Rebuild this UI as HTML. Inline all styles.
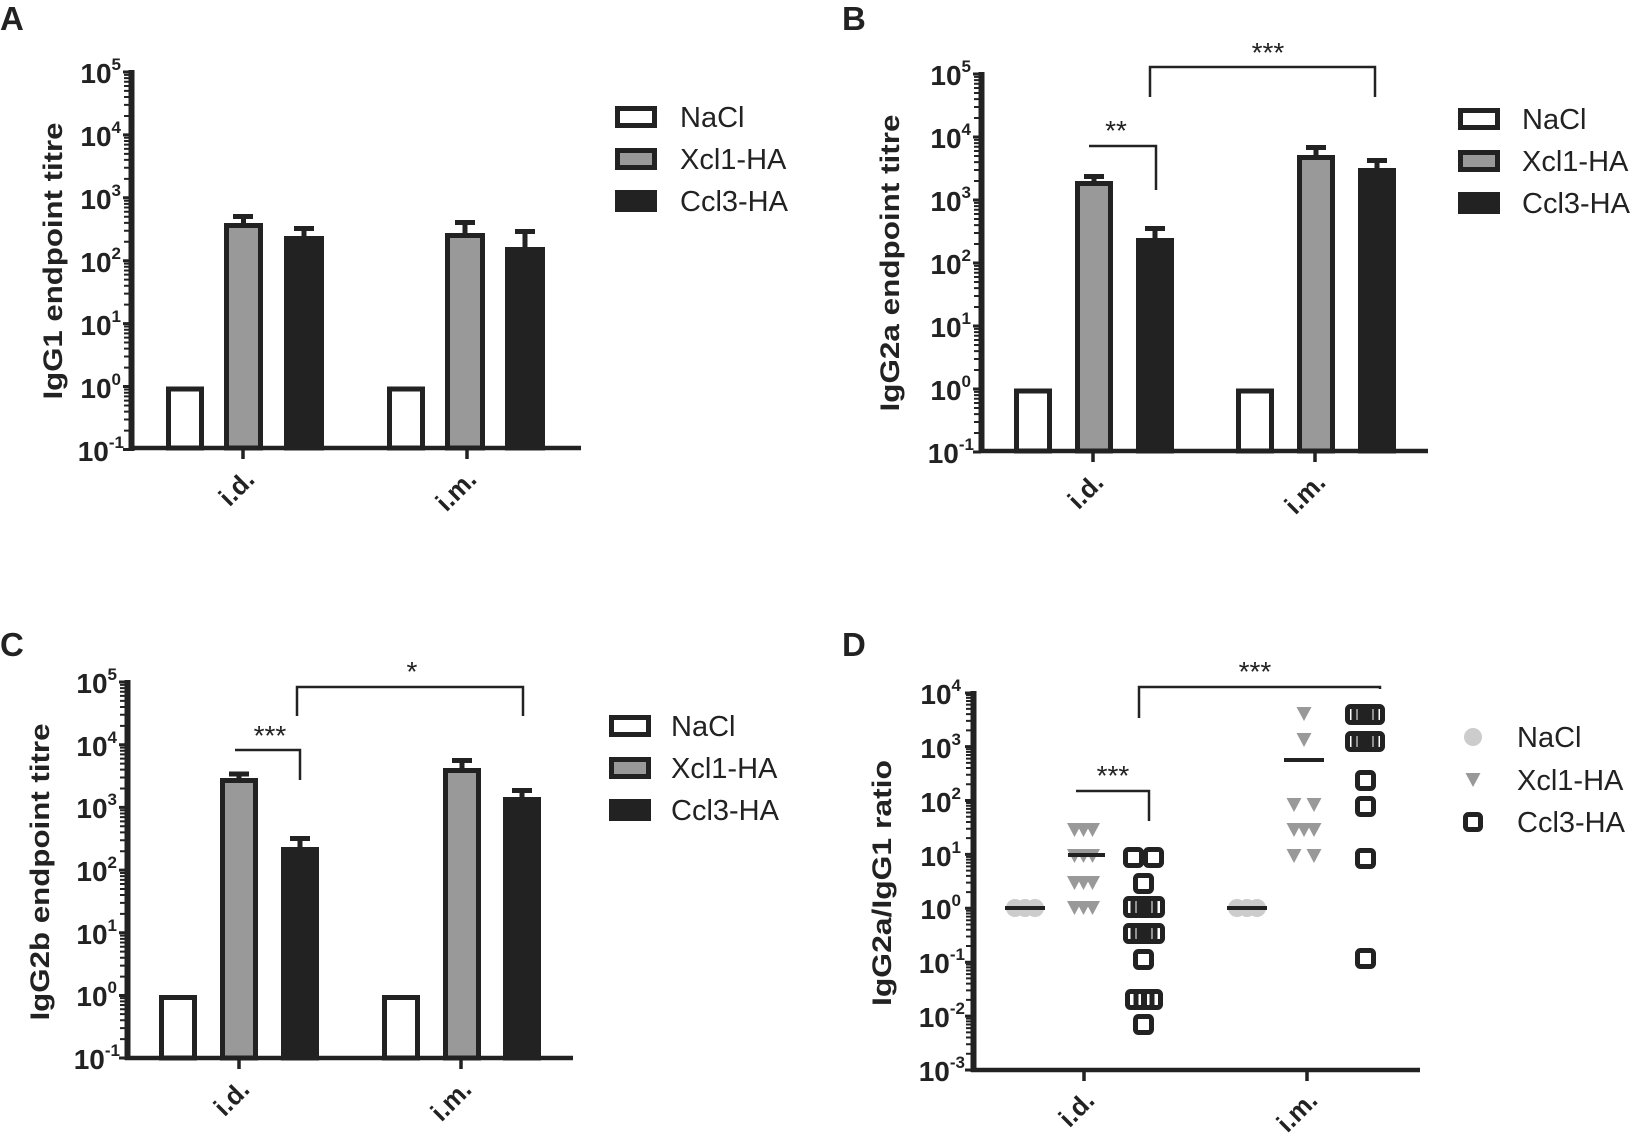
<!DOCTYPE html>
<html><head><meta charset="utf-8"><style>
html,body{margin:0;padding:0;background:#fff}
svg{display:block}
text{font-family:"Liberation Sans",sans-serif;fill:#222}
.tl{font-weight:bold;font-size:28px}
.ex{font-size:17px;font-weight:bold}
.yl{font-weight:bold;font-size:27px}
.xl{font-weight:bold;font-size:26px}
.lg{font-size:29px}
.pl{font-weight:bold;font-size:33px}
.st{font-size:28px}
</style></head><body>
<svg width="1638" height="1138" viewBox="0 0 1638 1138" xmlns="http://www.w3.org/2000/svg">
<defs>
<path id="mt" d="M0,-0.301H-5M0,-0.477H-5M0,-0.602H-5M0,-0.699H-5M0,-0.778H-5M0,-0.845H-5M0,-0.903H-5M0,-0.954H-5" stroke="#222" stroke-width="2" vector-effect="non-scaling-stroke" fill="none"/>
</defs>

<!-- ========== PANEL A ========== -->
<text class="pl" x="0" y="30">A</text>
<g stroke="#222" fill="none">
<line x1="131.5" y1="70" x2="131.5" y2="451" stroke-width="6"/>
<line x1="129" y1="448" x2="581" y2="448" stroke-width="4.5"/>
<path d="M123,72H131M123,134.9H131M123,197.8H131M123,260.7H131M123,323.6H131M123,386.5H131M123,449.5H131" stroke-width="3"/>
<path d="M243,448V459M467,448V459" stroke-width="3.5"/>
</g>
<g transform="translate(129,0)">
<use href="#mt" transform="translate(0,134.9) scale(1,62.9)"/>
<use href="#mt" transform="translate(0,197.8) scale(1,62.9)"/>
<use href="#mt" transform="translate(0,260.7) scale(1,62.9)"/>
<use href="#mt" transform="translate(0,323.6) scale(1,62.9)"/>
<use href="#mt" transform="translate(0,386.5) scale(1,62.9)"/>
<use href="#mt" transform="translate(0,449.5) scale(1,62.9)"/>
</g>
<g text-anchor="end">
<text class="tl" x="121" y="83">10<tspan class="ex" dy="-13">5</tspan></text>
<text class="tl" x="121" y="146">10<tspan class="ex" dy="-13">4</tspan></text>
<text class="tl" x="121" y="209">10<tspan class="ex" dy="-13">3</tspan></text>
<text class="tl" x="121" y="272">10<tspan class="ex" dy="-13">2</tspan></text>
<text class="tl" x="121" y="335">10<tspan class="ex" dy="-13">1</tspan></text>
<text class="tl" x="121" y="398">10<tspan class="ex" dy="-13">0</tspan></text>
<text class="tl" x="124" y="461">10<tspan class="ex" dy="-13">-1</tspan></text>
</g>
<text class="yl" transform="translate(62,261) rotate(-90)" text-anchor="middle" textLength="277" lengthAdjust="spacingAndGlyphs">IgG1 endpoint titre</text>
<text class="xl" transform="translate(256,481) rotate(-45)" text-anchor="end">i.d.</text>
<text class="xl" transform="translate(478,481) rotate(-45)" text-anchor="end">i.m.</text>
<g stroke="#222" stroke-width="5">
<rect x="168.5" y="389" width="33" height="59" fill="#fff"/>
<rect x="226.5" y="225.5" width="34" height="222.5" fill="#999"/>
<rect x="286.5" y="238.5" width="35" height="209.5" fill="#222"/>
<rect x="389.5" y="389" width="33" height="59" fill="#fff"/>
<rect x="447.5" y="235.5" width="35" height="212.5" fill="#999"/>
<rect x="507.5" y="249.5" width="35" height="198.5" fill="#222"/>
<path d="M243.5,223V216M233,216.5H253M304,236V228M294,228.5H314M465,233V222M455,222.5H475M525,247V231M515,231.5H535" stroke-width="5" fill="none"/>
</g>
<g stroke="#222" stroke-width="5">
<rect x="617.5" y="108.5" width="37" height="17" fill="#fff"/>
<rect x="617.5" y="150.5" width="37" height="17" fill="#999"/>
<rect x="617.5" y="192.5" width="37" height="17" fill="#222"/>
</g>
<text class="lg" x="680" y="127">NaCl</text>
<text class="lg" x="680" y="169">Xcl1-HA</text>
<text class="lg" x="680" y="211">Ccl3-HA</text>

<!-- ========== PANEL B ========== -->
<text class="pl" x="842" y="30">B</text>
<g stroke="#222" fill="none">
<line x1="981.5" y1="72" x2="981.5" y2="453" stroke-width="6"/>
<line x1="979" y1="451" x2="1428" y2="451" stroke-width="4.5"/>
<path d="M973,74H981M973,137H981M973,200H981M973,263H981M973,326H981M973,389H981M973,452H981" stroke-width="3"/>
<path d="M1093,451V462M1315,451V462" stroke-width="3.5"/>
</g>
<g transform="translate(979,0)">
<use href="#mt" transform="translate(0,137) scale(1,63)"/>
<use href="#mt" transform="translate(0,200) scale(1,63)"/>
<use href="#mt" transform="translate(0,263) scale(1,63)"/>
<use href="#mt" transform="translate(0,326) scale(1,63)"/>
<use href="#mt" transform="translate(0,389) scale(1,63)"/>
<use href="#mt" transform="translate(0,452) scale(1,63)"/>
</g>
<g text-anchor="end">
<text class="tl" x="971" y="85">10<tspan class="ex" dy="-13">5</tspan></text>
<text class="tl" x="971" y="148">10<tspan class="ex" dy="-13">4</tspan></text>
<text class="tl" x="971" y="211">10<tspan class="ex" dy="-13">3</tspan></text>
<text class="tl" x="971" y="274">10<tspan class="ex" dy="-13">2</tspan></text>
<text class="tl" x="971" y="337">10<tspan class="ex" dy="-13">1</tspan></text>
<text class="tl" x="971" y="400">10<tspan class="ex" dy="-13">0</tspan></text>
<text class="tl" x="974" y="463">10<tspan class="ex" dy="-13">-1</tspan></text>
</g>
<text class="yl" transform="translate(899,263) rotate(-90)" text-anchor="middle" textLength="297" lengthAdjust="spacingAndGlyphs">IgG2a endpoint titre</text>
<text class="xl" transform="translate(1105,484) rotate(-45)" text-anchor="end">i.d.</text>
<text class="xl" transform="translate(1327,484) rotate(-45)" text-anchor="end">i.m.</text>
<g stroke="#222" stroke-width="5">
<rect x="1016.5" y="391" width="33" height="60" fill="#fff"/>
<rect x="1077.5" y="183.5" width="33" height="267.5" fill="#999"/>
<rect x="1138.5" y="240.5" width="33" height="210.5" fill="#222"/>
<rect x="1238.5" y="391" width="33" height="60" fill="#fff"/>
<rect x="1299.5" y="157.5" width="33" height="293.5" fill="#999"/>
<rect x="1360.5" y="170.5" width="33" height="280.5" fill="#222"/>
<path d="M1094,181V176M1084,176.5H1104M1155,238V228M1145,228.5H1165M1316,155V147M1306,147.5H1326M1377,168V160M1367,160.5H1387" fill="none"/>
</g>
<g stroke="#222" stroke-width="2.5" fill="none">
<path d="M1150,97V67H1375V97"/>
<path d="M1089,146H1156V190"/>
</g>
<text class="st" x="1268" y="62" text-anchor="middle">***</text>
<text class="st" x="1116" y="140" text-anchor="middle">**</text>
<g stroke="#222" stroke-width="5">
<rect x="1460.5" y="110.5" width="37" height="17" fill="#fff"/>
<rect x="1460.5" y="152.5" width="37" height="17" fill="#999"/>
<rect x="1460.5" y="194.5" width="37" height="17" fill="#222"/>
</g>
<text class="lg" x="1522" y="129">NaCl</text>
<text class="lg" x="1522" y="171">Xcl1-HA</text>
<text class="lg" x="1522" y="213">Ccl3-HA</text>

<!-- ========== PANEL C ========== -->
<text class="pl" x="0" y="656">C</text>
<g stroke="#222" fill="none">
<line x1="127.5" y1="680" x2="127.5" y2="1060" stroke-width="6"/>
<line x1="125" y1="1058" x2="573" y2="1058" stroke-width="4.5"/>
<path d="M119,682H127M119,744.7H127M119,807.4H127M119,870.1H127M119,932.8H127M119,995.5H127M119,1058H127" stroke-width="3"/>
<path d="M239,1058V1069M461,1058V1069" stroke-width="3.5"/>
</g>
<g transform="translate(125,0)">
<use href="#mt" transform="translate(0,744.7) scale(1,62.7)"/>
<use href="#mt" transform="translate(0,807.4) scale(1,62.7)"/>
<use href="#mt" transform="translate(0,870.1) scale(1,62.7)"/>
<use href="#mt" transform="translate(0,932.8) scale(1,62.7)"/>
<use href="#mt" transform="translate(0,995.5) scale(1,62.7)"/>
<use href="#mt" transform="translate(0,1058) scale(1,62.7)"/>
</g>
<g text-anchor="end">
<text class="tl" x="117" y="693">10<tspan class="ex" dy="-13">5</tspan></text>
<text class="tl" x="117" y="756">10<tspan class="ex" dy="-13">4</tspan></text>
<text class="tl" x="117" y="818">10<tspan class="ex" dy="-13">3</tspan></text>
<text class="tl" x="117" y="881">10<tspan class="ex" dy="-13">2</tspan></text>
<text class="tl" x="117" y="944">10<tspan class="ex" dy="-13">1</tspan></text>
<text class="tl" x="117" y="1006">10<tspan class="ex" dy="-13">0</tspan></text>
<text class="tl" x="120" y="1069">10<tspan class="ex" dy="-13">-1</tspan></text>
</g>
<text class="yl" transform="translate(49,872) rotate(-90)" text-anchor="middle" textLength="297" lengthAdjust="spacingAndGlyphs">IgG2b endpoint titre</text>
<text class="xl" transform="translate(251,1091) rotate(-45)" text-anchor="end">i.d.</text>
<text class="xl" transform="translate(473,1091) rotate(-45)" text-anchor="end">i.m.</text>
<g stroke="#222" stroke-width="5">
<rect x="161.5" y="997.5" width="33" height="60.5" fill="#fff"/>
<rect x="222.5" y="780.5" width="33" height="277.5" fill="#999"/>
<rect x="283.5" y="849.5" width="33" height="208.5" fill="#222"/>
<rect x="384.5" y="997.5" width="33" height="60.5" fill="#fff"/>
<rect x="445.5" y="770.5" width="33" height="287.5" fill="#999"/>
<rect x="505.5" y="799.5" width="33" height="258.5" fill="#222"/>
<path d="M239,778V774M229,774H249M300,847V838M290,838.5H310M462,768V760M452,760.5H472M522,797V790M512,790.5H532" fill="none"/>
</g>
<g stroke="#222" stroke-width="2.5" fill="none">
<path d="M297,716V687H523V716"/>
<path d="M235,750H300V780"/>
</g>
<text class="st" x="412" y="681" text-anchor="middle">*</text>
<text class="st" x="270" y="745" text-anchor="middle">***</text>
<g stroke="#222" stroke-width="5">
<rect x="611.5" y="717.5" width="37" height="17" fill="#fff"/>
<rect x="611.5" y="759.5" width="37" height="17" fill="#999"/>
<rect x="611.5" y="801.5" width="37" height="17" fill="#222"/>
</g>
<text class="lg" x="671" y="736">NaCl</text>
<text class="lg" x="671" y="778">Xcl1-HA</text>
<text class="lg" x="671" y="820">Ccl3-HA</text>

<!-- ========== PANEL D ========== -->
<text class="pl" x="842" y="656">D</text>
<g stroke="#222" fill="none">
<line x1="973.5" y1="691" x2="973.5" y2="1072" stroke-width="6"/>
<line x1="971" y1="1070" x2="1420" y2="1070" stroke-width="4.5"/>
<path d="M965,693H973M965,746.6H973M965,800.5H973M965,854.4H973M965,908.3H973M965,962.2H973M965,1016.1H973M965,1070H973" stroke-width="3"/>
<path d="M1084,1070V1081M1307,1070V1081" stroke-width="3.5"/>
</g>
<g transform="translate(971,0)">
<use href="#mt" transform="translate(0,746.6) scale(1,53.9)"/>
<use href="#mt" transform="translate(0,800.5) scale(1,53.9)"/>
<use href="#mt" transform="translate(0,854.4) scale(1,53.9)"/>
<use href="#mt" transform="translate(0,908.3) scale(1,53.9)"/>
<use href="#mt" transform="translate(0,962.2) scale(1,53.9)"/>
<use href="#mt" transform="translate(0,1016.1) scale(1,53.9)"/>
<use href="#mt" transform="translate(0,1070) scale(1,53.9)"/>
</g>
<g text-anchor="end">
<text class="tl" x="961" y="704">10<tspan class="ex" dy="-13">4</tspan></text>
<text class="tl" x="961" y="758">10<tspan class="ex" dy="-13">3</tspan></text>
<text class="tl" x="961" y="812">10<tspan class="ex" dy="-13">2</tspan></text>
<text class="tl" x="961" y="866">10<tspan class="ex" dy="-13">1</tspan></text>
<text class="tl" x="961" y="919">10<tspan class="ex" dy="-13">0</tspan></text>
<text class="tl" x="965" y="973">10<tspan class="ex" dy="-13">-1</tspan></text>
<text class="tl" x="965" y="1027">10<tspan class="ex" dy="-13">-2</tspan></text>
<text class="tl" x="965" y="1081">10<tspan class="ex" dy="-13">-3</tspan></text>
</g>
<text class="yl" transform="translate(891,883) rotate(-90)" text-anchor="middle" textLength="246" lengthAdjust="spacingAndGlyphs">IgG2a/IgG1 ratio</text>
<text class="xl" transform="translate(1096,1102) rotate(-45)" text-anchor="end">i.d.</text>
<text class="xl" transform="translate(1319,1102) rotate(-45)" text-anchor="end">i.m.</text>
<g fill="#ccc">
<circle cx="1015" cy="908" r="9"/><circle cx="1025" cy="908" r="9"/><circle cx="1035" cy="908" r="9"/>
<circle cx="1237" cy="908" r="9"/><circle cx="1247" cy="908" r="9"/><circle cx="1257" cy="908" r="9"/>
</g>
<g fill="#999">
<path d="M1067,823h15l-7.5,14zM1076,823h15l-7.5,14zM1085,823h15l-7.5,14z"/>
<path d="M1067,849h15l-7.5,14zM1076,849h15l-7.5,14zM1085,849h15l-7.5,14z"/>
<path d="M1067,876h15l-7.5,14zM1076,876h15l-7.5,14zM1085,876h15l-7.5,14z"/>
<path d="M1067,901h15l-7.5,14zM1076,901h15l-7.5,14zM1085,901h15l-7.5,14z"/>
<path d="M1296.5,707h15l-7.5,14zM1296.5,733h15l-7.5,14z"/>
<path d="M1286.5,798h15l-7.5,14zM1306.5,798h15l-7.5,14z"/>
<path d="M1286.5,823h15l-7.5,14zM1296.5,823h15l-7.5,14zM1306.5,823h15l-7.5,14z"/>
<path d="M1286.5,849h15l-7.5,14zM1306.5,849h15l-7.5,14z"/>
</g>
<g stroke="#222" stroke-width="4">
<path d="M1005,908H1045M1227,908H1267M1068,855H1105M1284,760H1324"/>
</g>
<g fill="none" stroke="#222" stroke-width="5">
<rect x="1125.5" y="849.5" width="16" height="16" rx="3"/><rect x="1145.5" y="849.5" width="16" height="16" rx="3"/>
<rect x="1135.5" y="875.5" width="16" height="16" rx="3"/>
<rect x="1125.5" y="898.5" width="16" height="17" rx="3"/><rect x="1133" y="898.5" width="16" height="17" rx="3"/><rect x="1139" y="898.5" width="16" height="17" rx="3"/><rect x="1146.5" y="898.5" width="16" height="17" rx="3"/>
<rect x="1125.5" y="925.5" width="16" height="16" rx="3"/><rect x="1133" y="925.5" width="16" height="16" rx="3"/><rect x="1139" y="925.5" width="16" height="16" rx="3"/><rect x="1146.5" y="925.5" width="16" height="16" rx="3"/>
<rect x="1135.5" y="951.5" width="16" height="16" rx="3"/>
<rect x="1127.5" y="991.5" width="16" height="16" rx="3"/><rect x="1136" y="991.5" width="16" height="16" rx="3"/><rect x="1144.5" y="991.5" width="16" height="16" rx="3"/>
<rect x="1135.5" y="1016.5" width="16" height="16" rx="3"/>
<rect x="1347.5" y="706.5" width="16" height="16" rx="3"/><rect x="1354" y="706.5" width="16" height="16" rx="3"/><rect x="1360" y="706.5" width="16" height="16" rx="3"/><rect x="1366.5" y="706.5" width="16" height="16" rx="3"/>
<rect x="1347.5" y="733.5" width="16" height="16" rx="3"/><rect x="1354" y="733.5" width="16" height="16" rx="3"/><rect x="1360" y="733.5" width="16" height="16" rx="3"/><rect x="1366.5" y="733.5" width="16" height="16" rx="3"/>
<rect x="1357.5" y="772.5" width="16" height="16" rx="3"/>
<rect x="1357.5" y="798.5" width="16" height="16" rx="3"/>
<rect x="1357.5" y="850.5" width="16" height="16" rx="3"/>
<rect x="1357.5" y="950.5" width="16" height="16" rx="3"/>
</g>
<g stroke="#222" stroke-width="2.5" fill="none">
<path d="M1139,718V687H1380V689"/>
<path d="M1076,791H1149V821"/>
</g>
<text class="st" x="1255" y="681" text-anchor="middle">***</text>
<text class="st" x="1113" y="785" text-anchor="middle">***</text>
<circle cx="1473" cy="737" r="9" fill="#ccc"/>
<path d="M1465.5,773h15l-7.5,14z" fill="#999"/>
<rect x="1465.5" y="814.5" width="15" height="15" rx="3" fill="none" stroke="#222" stroke-width="5"/>
<text class="lg" x="1517" y="747">NaCl</text>
<text class="lg" x="1517" y="790">Xcl1-HA</text>
<text class="lg" x="1517" y="832">Ccl3-HA</text>
</svg>
</body></html>
